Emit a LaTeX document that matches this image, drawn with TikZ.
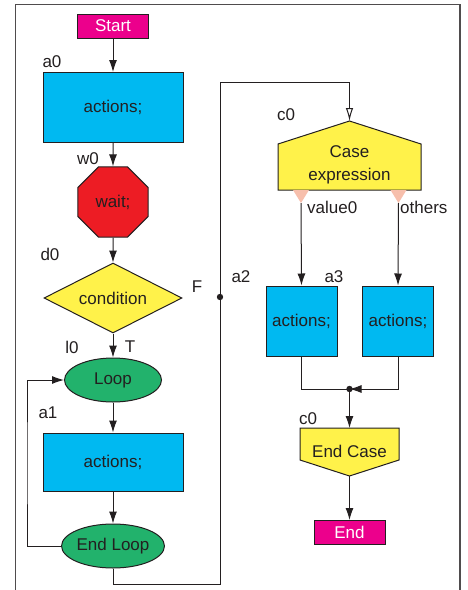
\documentclass[tikz,border=0pt]{standalone}
\usepackage{fontspec}
\setmainfont{Liberation Sans}
\usetikzlibrary{shapes.geometric,arrows.meta}
\definecolor{mag}{HTML}{EC008C}
\definecolor{cyanbox}{HTML}{00B9F1}
\definecolor{redoct}{HTML}{ED1C24}
\definecolor{yel}{HTML}{FFF24A}
\definecolor{grn}{HTML}{22B26C}
\definecolor{salmon}{HTML}{F7BFAC}
\definecolor{ink}{HTML}{231F20}
\tikzset{
  every node/.style={font=\fontsize{17}{20}\selectfont, text=ink},
  base/.style={draw=ink, line width=1pt, inner sep=0pt},
  termbox/.style={base, rectangle, fill=mag, text=white, minimum width=71pt, minimum height=24pt},
  actbox/.style={base, rectangle, fill=cyanbox},
  octo/.style={base, regular polygon, regular polygon sides=8, fill=redoct, minimum size=76pt},
  decis/.style={base, diamond, aspect=2, fill=yel, minimum width=138pt, minimum height=70pt},
  loopnode/.style={base, ellipse, fill=grn, minimum width=97pt, minimum height=44pt},
  lbl/.style={inner sep=0pt},
  conn/.style={draw=ink, line width=1pt},
  arr/.style={conn, -{Latex[length=12pt,width=8pt]}},
  openarr/.style={conn, -{Latex[open,length=13pt,width=7.5pt]}},
}
\begin{document}
\begin{tikzpicture}[x=1pt,y=-1pt]
\useasboundingbox (0,0) rectangle (467,590);
% frame
\draw[draw=ink!80, line width=1.4pt] (15.7,590) -- (15.7,4.5) -- (460,4.5) -- (460,590);

% left column
\node[termbox] (start) at (113,26) {Start};
\node[actbox, minimum width=140pt, minimum height=70pt] (a0) at (113,107.5) {actions;};
\node[octo] (w0) at (113,202) {wait;};
\node[decis] (d0) at (113,298) {condition};
\node[loopnode] (l0) at (113,380) {Loop};
\node[actbox, minimum width=140pt, minimum height=58pt] (a1) at (113,462) {actions;};
\node[loopnode] (el) at (113,546) {End Loop};

\draw[arr] (start) -- (a0);
\draw[arr] (a0) -- (w0);
\draw[arr] (w0) -- (d0);
\draw[arr] (d0) -- (l0);
\draw[arr] (l0) -- (a1);
\draw[arr] (a1) -- (el);
\draw[arr] (el.west) -| (27,463) |- (l0.west);

% labels left
\node[lbl] at (52,62) {a0};
\node[lbl] at (88,159) {w0};
\node[lbl] at (50,254) {d0};
\node[lbl] at (197,287) {F};
\node[lbl] at (72,347) {l0};
\node[lbl] at (130,347) {T};
\node[lbl] at (48,413) {a1};
\node[lbl] at (241,277) {a2};

% case structure
\coordinate (capex) at (349.5,121);
\filldraw[fill=yel, draw=ink, line width=1pt] (278,190) -- (278,144) -- (capex) -- (421,144) -- (421,190) -- cycle;
\node[lbl, align=center, font=\fontsize{17}{23}\selectfont] (c0) at (349.5,164.5) {Case\\expression};
\fill[salmon] (293,190) -- (309,190) -- (301,203) -- cycle;
\fill[salmon] (390.5,190) -- (406.5,190) -- (398.5,203) -- cycle;
\coordinate (v0) at (301,203);
\coordinate (v1) at (398.5,203);

\node[actbox, minimum width=71pt, minimum height=70pt] (a3) at (301.5,321) {actions;};
\node[actbox, minimum width=71pt, minimum height=70pt] (a4) at (398,321) {actions;};

\coordinate (ecapex) at (349.5,476);
\filldraw[fill=yel, draw=ink, line width=1pt] (300,428) -- (399,428) -- (399,460) -- (ecapex) -- (300,460) -- cycle;
\node[lbl] (ec) at (349.5,451) {End Case};
\node[termbox] (end) at (349.5,532.5) {End};

% connectors right
\coordinate (bl) at (113,584);
\coordinate (br) at (220,584);
\coordinate (tl) at (220,82);
\coordinate (dot) at (220,297);
\draw[openarr] (el.south) -- (bl) -- (br) -- (tl) -| (capex);
\fill[ink] (dot) circle (3.2pt);

\draw[arr] (v0) -- (a3.north);
\draw[arr] (v1) -- (a4.north);
\coordinate (j) at (349.5,389);
\draw[conn] (a3.south) |- (j);
\draw[arr] (a4.south) |- (j);
\fill[ink] (j) circle (3.2pt);
\draw[arr] (j) -- (300,428 -| ecapex);
\draw[arr] (ecapex) -- (end.north);

% labels right
\node[lbl] at (286,115) {c0};
\node[lbl, anchor=west] at (307,207) {value0};
\node[lbl, anchor=west] at (400,207) {others};
\node[lbl] at (334,277) {a3};
\node[lbl] at (308,419) {c0};
\end{tikzpicture}
\end{document}
